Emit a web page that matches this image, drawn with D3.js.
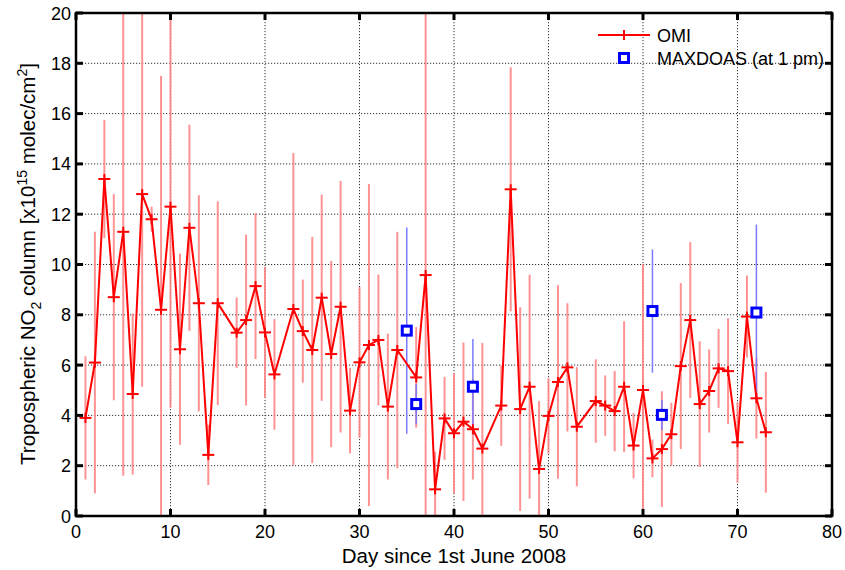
<!DOCTYPE html>
<html>
<head>
<meta charset="utf-8">
<script src="https://cdn.jsdelivr.net/npm/d3@7.9.0/dist/d3.min.js"></script>
<style>
  body { margin: 0; background: #fff; }
  svg { font-family: Arial, "Liberation Sans", sans-serif; }
</style>
</head>
<body>
<svg id="chart" width="845" height="570"></svg>
<script>
// OMI daily values (days with no overpass are left out)
const omiDays = [1, 2, 3, 4, 5, 6, 7, 8, 9, 10, 11, 12, 13, 14, 15, 17, 18, 19, 20,
  21, 23, 24, 25, 26, 27, 28, 29, 30, 31, 32, 33, 34, 36, 37, 38, 39, 40,
  41, 42, 43, 45, 46, 47, 48, 49, 50, 51, 52, 53, 55, 56, 57, 58, 59, 60,
  61, 62, 63, 64, 65, 66, 67, 68, 69, 70, 71, 72, 73];
const omiValues = [3.9, 6.1, 13.4, 8.7, 11.3, 4.85, 12.8, 11.8, 8.2, 12.3, 6.63, 11.46, 8.46, 2.43, 8.46, 7.29, 7.79, 9.14, 7.3,
  5.63, 8.23, 7.35, 6.6, 8.68, 6.44, 8.32, 4.19, 6.11, 6.8, 7.0, 4.35, 6.6, 5.51, 9.58, 1.06, 3.88, 3.29,
  3.75, 3.45, 2.68, 4.39, 12.99, 4.25, 5.14, 1.87, 3.98, 5.33, 5.91, 3.55, 4.57, 4.39, 4.17, 5.14, 2.8, 5.01,
  2.29, 2.66, 3.25, 5.96, 7.79, 4.45, 4.97, 5.87, 5.76, 2.93, 7.93, 4.68, 3.33];
const omiErrors = [2.45, 5.2, 2.35, 4.1, 9.7, 3.2, 7.66, 0.5, 9.3, 8.0, 3.8, 4.1, 4.3, 1.2, 4.05, 1.4, 3.4, 2.9, 2.6,
  2.2, 6.2, 2.05, 4.5, 4.1, 3.7, 5.0, 1.7, 3.0, 6.4, 2.6, 2.9, 4.7, 2.0, 11.0, 1.5, 1.65, 2.4,
  3.15, 2.0, 4.2, 1.6, 4.85, 4.05, 4.45, 2.7, 1.5, 3.85, 2.55, 2.37, 1.66, 1.2, 1.6, 2.6, 1.3, 5.0,
  0.75, 2.3, 1.25, 3.3, 3.1, 2.5, 1.65, 1.57, 2.1, 1.6, 1.63, 1.6, 2.4];

// MAXDOAS values at 1 pm
const maxDays = [35, 36, 42, 61, 62, 72];
const maxValues = [7.37, 4.45, 5.14, 8.15, 4.02, 8.09];
const maxErrors = [4.1, 0.8, 1.9, 2.45, 0.6, 3.5];

const xTicks = [0, 10, 20, 30, 40, 50, 60, 70, 80];
const yTicks = [0, 2, 4, 6, 8, 10, 12, 14, 16, 18, 20];

const omi = omiDays.map((d, i) => ({ day: d, value: omiValues[i], err: omiErrors[i] }));
const maxdoas = maxDays.map((d, i) => ({ day: d, value: maxValues[i], err: maxErrors[i] }));

const pLeft = 76, pRight = 832, pTop = 13, pBottom = 516;
const svg = d3.select('#chart');

const x = d3.scaleLinear().domain([0, 80]).range([pLeft, pRight]);
const y = d3.scaleLinear().domain([0, 20]).range([pBottom, pTop]);

svg.append('defs').append('clipPath').attr('id', 'plot')
  .append('rect').attr('x', pLeft).attr('y', pTop)
  .attr('width', pRight - pLeft).attr('height', pBottom - pTop);

// dotted grid
const grid = svg.append('g');
grid.selectAll('line.gx').data(xTicks.slice(1, -1)).join('line')
  .attr('x1', (d) => x(d)).attr('x2', (d) => x(d))
  .attr('y1', pTop).attr('y2', pBottom)
  .attr('stroke', '#333').attr('stroke-width', 1).attr('stroke-dasharray', '1.2,1.8');
grid.selectAll('line.gy').data(yTicks.slice(1, -1)).join('line')
  .attr('x1', pLeft).attr('x2', pRight)
  .attr('y1', (d) => y(d)).attr('y2', (d) => y(d))
  .attr('stroke', '#333').attr('stroke-width', 1).attr('stroke-dasharray', '1.2,1.8');

const plot = svg.append('g').attr('clip-path', 'url(#plot)');

// OMI error bars
plot.selectAll('line.omiErr').data(omi).join('line')
  .attr('x1', (d) => x(d.day)).attr('x2', (d) => x(d.day))
  .attr('y1', (d) => y(d.value - d.err)).attr('y2', (d) => y(d.value + d.err))
  .attr('stroke', '#ff8080').attr('stroke-opacity', 0.85).attr('stroke-width', 2);

// MAXDOAS error bars
plot.selectAll('line.maxErr').data(maxdoas).join('line')
  .attr('x1', (d) => x(d.day)).attr('x2', (d) => x(d.day))
  .attr('y1', (d) => y(d.value - d.err)).attr('y2', (d) => y(d.value + d.err))
  .attr('stroke', '#7b7bff').attr('stroke-width', 1.5);

// OMI line + markers
const line = d3.line().x((d) => x(d.day)).y((d) => y(d.value));
plot.append('path').datum(omi)
  .attr('d', line).attr('fill', 'none')
  .attr('stroke', '#ff0000').attr('stroke-width', 2);

const plus = (g, cx, cy) => {
  g.append('line').attr('x1', cx - 6).attr('x2', cx + 6).attr('y1', cy).attr('y2', cy)
    .attr('stroke', '#ff0000').attr('stroke-width', 2);
  g.append('line').attr('x1', cx).attr('x2', cx).attr('y1', cy - 5).attr('y2', cy + 5)
    .attr('stroke', '#ff0000').attr('stroke-width', 2);
};
omi.forEach((d) => plus(plot, x(d.day), y(d.value)));

// MAXDOAS squares
const square = (g, cx, cy) => {
  g.append('rect').attr('x', cx - 4.5).attr('y', cy - 4.5)
    .attr('width', 9).attr('height', 9)
    .attr('fill', '#fff').attr('stroke', '#0000ff').attr('stroke-width', 3);
};
maxdoas.forEach((d) => square(plot, x(d.day), y(d.value)));

// axes box and ticks (ticks point inward, on all sides)
const axes = svg.append('g');
axes.append('rect').attr('x', pLeft).attr('y', pTop)
  .attr('width', pRight - pLeft).attr('height', pBottom - pTop)
  .attr('fill', 'none').attr('stroke', '#000').attr('stroke-width', 2.5);

xTicks.forEach((t) => {
  axes.append('line').attr('x1', x(t)).attr('x2', x(t)).attr('y1', pBottom).attr('y2', pBottom - 7)
    .attr('stroke', '#000').attr('stroke-width', 3);
  axes.append('line').attr('x1', x(t)).attr('x2', x(t)).attr('y1', pTop).attr('y2', pTop + 7)
    .attr('stroke', '#000').attr('stroke-width', 3);
  axes.append('text').attr('x', x(t)).attr('y', pBottom + 22)
    .attr('text-anchor', 'middle').attr('font-size', 18).text(t);
});
yTicks.forEach((t) => {
  axes.append('line').attr('x1', pLeft).attr('x2', pLeft + 7).attr('y1', y(t)).attr('y2', y(t))
    .attr('stroke', '#000').attr('stroke-width', 3);
  axes.append('line').attr('x1', pRight).attr('x2', pRight - 7).attr('y1', y(t)).attr('y2', y(t))
    .attr('stroke', '#000').attr('stroke-width', 3);
  axes.append('text').attr('x', pLeft - 5).attr('y', y(t) + 6.5)
    .attr('text-anchor', 'end').attr('font-size', 18).text(t);
});

// axis titles
svg.append('text').attr('x', 454).attr('y', 563)
  .attr('text-anchor', 'middle').attr('font-size', 20.5)
  .text('Day since 1st June 2008');

const yl = svg.append('text')
  .attr('transform', `translate(35,264) rotate(-90)`)
  .attr('text-anchor', 'middle').attr('font-size', 20.5);
yl.append('tspan').text('Tropospheric NO');
yl.append('tspan').attr('font-size', 14).attr('dy', 6).text('2');
yl.append('tspan').attr('dy', -6).text(' column [x10');
yl.append('tspan').attr('font-size', 14).attr('dy', -8).text('15');
yl.append('tspan').attr('dy', 8).text(' molec/cm');
yl.append('tspan').attr('font-size', 14).attr('dy', -8).text('2');
yl.append('tspan').attr('dy', 8).text(']');

// legend
const legend = svg.append('g');
legend.append('line').attr('x1', 598).attr('x2', 650).attr('y1', 35).attr('y2', 35)
  .attr('stroke', '#ff0000').attr('stroke-width', 2);
plus(legend, 624, 35);
square(legend, 624, 58);
legend.append('text').attr('x', 657).attr('y', 42).attr('font-size', 18).text('OMI');
legend.append('text').attr('x', 657).attr('y', 65).attr('font-size', 18).text('MAXDOAS (at 1 pm)');
</script>
</body>
</html>
